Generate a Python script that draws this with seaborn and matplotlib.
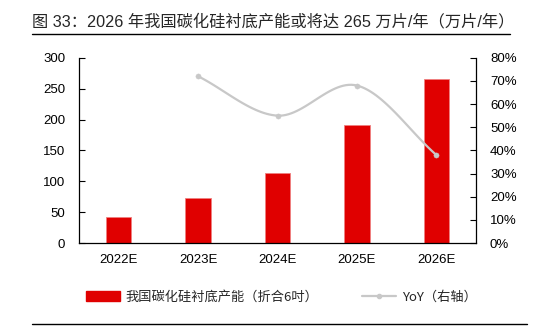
import numpy as np
import pandas as pd
import matplotlib
matplotlib.use("Agg")
import matplotlib.pyplot as plt
import seaborn as sns
from matplotlib.lines import Line2D
from matplotlib.patches import Patch

years = ["2022E", "2023E", "2024E", "2025E", "2026E"]
capacity = [42, 73, 113, 191, 265]
yoy = [np.nan, 72, 55, 68, 38]
left_ticks = [0, 50, 100, 150, 200, 250, 300]
right_ticks = [0, 10, 20, 30, 40, 50, 60, 70, 80]
title = "图 33：2026 年我国碳化硅衬底产能或将达 265 万片/年（万片/年）"
bar_label = "我国碳化硅衬底产能（折合6吋）"
line_label = "YoY（右轴）"

sns.set_theme(style="white")
plt.rcParams['font.family'] = ['Liberation Sans', 'Noto Sans CJK SC', 'DejaVu Sans']
CJK = ['Noto Sans CJK SC', 'DejaVu Sans']
MIX = ['Liberation Sans', 'Noto Sans CJK SC', 'DejaVu Sans']

df = pd.DataFrame({"year": years, "cap": capacity, "yoy": yoy})

fig = plt.figure(figsize=(5.41, 3.35), dpi=100)
ax = fig.add_axes([0.146, 0.2746, 0.734, 0.553])
red = "#E00000"
sns.barplot(data=df, x="year", y="cap", color=red, width=0.32, ax=ax,
            saturation=1, edgecolor="#F08080", linewidth=0.6)
ax.set_ylim(0, 300)
ax.set_xlim(-0.5, 4.5)
ax.set_yticks(left_ticks)
ax.set_xlabel("")
ax.set_ylabel("")
ax.tick_params(axis="y", direction="in", length=4, width=0.8, colors="black",
               labelsize=9.5, pad=10, left=True)
ax.tick_params(axis="x", length=0, labelsize=9.5, pad=8)
for s in ["top", "right"]:
    ax.spines[s].set_visible(False)
for s in ["left", "bottom"]:
    ax.spines[s].set_color("black")
    ax.spines[s].set_linewidth(0.9)

ax2 = ax.twinx()
ax2.set_ylim(0, 80)
ax2.set_yticks(right_ticks)
ax2.set_yticklabels([f"{t}%" for t in right_ticks])
ax2.tick_params(axis="y", direction="in", length=4, width=0.8, colors="black",
                labelsize=9.5, pad=10, right=True)
for s in ["top", "left", "bottom"]:
    ax2.spines[s].set_visible(False)
ax2.spines["right"].set_color("black")
ax2.spines["right"].set_linewidth(0.9)

# smoothed line (Catmull-Rom through data points)
xs = np.array([i for i, v in enumerate(yoy) if not np.isnan(v)], dtype=float)
ys = np.array([v for v in yoy if not np.isnan(v)], dtype=float)
px = np.concatenate([[2*xs[0]-xs[1]], xs, [2*xs[-1]-xs[-2]]])
py = np.concatenate([[2*ys[0]-ys[1]], ys, [2*ys[-1]-ys[-2]]])
cx, cy = [], []
t = np.linspace(0, 1, 30)
for i in range(1, len(px)-2):
    p0, p1, p2, p3 = [np.array([px[j], py[j]]) for j in range(i-1, i+3)]
    seg = 0.5*((2*p1) + (-p0+p2)*t[:, None] + (2*p0-5*p1+4*p2-p3)*(t[:, None]**2)
               + (-p0+3*p1-3*p2+p3)*(t[:, None]**3))
    cx.extend(seg[:, 0]); cy.extend(seg[:, 1])
gray = "#C8C8C8"
ax2.plot(cx, cy, color=gray, lw=1.6, zorder=3)
sns.scatterplot(x=xs, y=ys, ax=ax2, color=gray, s=14, edgecolor=gray, zorder=4, legend=False)

for lab in ax.get_xticklabels() + ax.get_yticklabels() + ax2.get_yticklabels():
    lab.set_color("black")

handles = [Patch(facecolor=red, edgecolor=red),
           Line2D([0], [0], color=gray, lw=1.6, marker="o", markersize=3)]
leg = fig.legend(handles, [bar_label, line_label], loc="center", ncol=2,
                 bbox_to_anchor=(0.52, 0.113), frameon=False,
                 prop={"family": CJK, "size": 9.5}, handlelength=2.6,
                 columnspacing=3.3, handletextpad=0.4)

fig.text(0.059, 0.935, title, fontsize=11.7, family=MIX, va="center", ha="left")
fig.add_artist(Line2D([0.059, 0.943], [0.898, 0.898], color="black", lw=1.0))
fig.add_artist(Line2D([0.059, 0.974], [0.033, 0.033], color="black", lw=1.0))

fig.savefig("out.png", dpi=100)
